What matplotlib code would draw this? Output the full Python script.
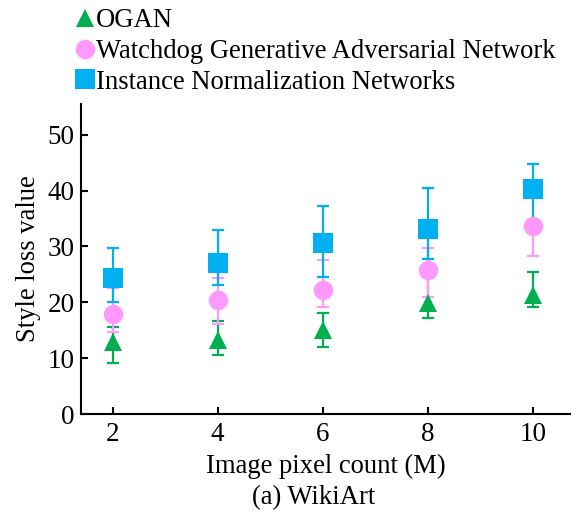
import numpy as np
import matplotlib
matplotlib.use("Agg")
import matplotlib.pyplot as plt

plt.rcParams['font.family'] = ['Liberation Serif', 'DejaVu Serif']

pixels = [2, 4, 6, 8, 10]

ogan = [12.9, 13.3, 15.0, 19.9, 21.3]
ogan_lo = [9.1, 10.6, 12.0, 17.2, 19.2]
ogan_hi = [15.6, 16.7, 18.1, 25.1, 25.4]

watchdog = [17.9, 20.4, 22.2, 25.8, 33.7]
watchdog_lo = [14.7, 16.1, 19.2, 21.0, 28.3]
watchdog_hi = [22.6, 24.3, 27.6, 29.8, 38.9]

instnorm = [24.4, 27.0, 30.6, 33.2, 40.3]
instnorm_lo = [20.0, 23.1, 24.6, 27.8, 34.8]
instnorm_hi = [29.7, 32.9, 37.3, 40.5, 44.7]

names = ['OGAN', 'Watchdog Generative Adversarial Network',
         'Instance Normalization Networks']
colors = ['#00B050', '#FF99FF', '#00B0F0']
markers = ['^', 'o', 's']
sizes = [13.5, 14, 14]

fig = plt.figure(figsize=(5.76, 5.17), dpi=100)
ax = fig.add_axes([0.1406, 0.1992, 0.849, 0.5996])

series = [(ogan, ogan_lo, ogan_hi), (watchdog, watchdog_lo, watchdog_hi),
          (instnorm, instnorm_lo, instnorm_hi)]
handles = []
for (mid, lo, hi), name, c, m, s in zip(series, names, colors, markers, sizes):
    mid = np.array(mid)
    yerr = [mid - np.array(lo), np.array(hi) - mid]
    ax.errorbar(pixels, mid, yerr=yerr, fmt='none', ecolor=c,
                elinewidth=1.6, capsize=4.5, capthick=1.6, zorder=2)
    h, = ax.plot(pixels, mid, linestyle='none', marker=m, markersize=s,
                 color=c, markeredgewidth=0, zorder=3, label=name)
    handles.append(h)

ax.set_xlim(1.4, 10.7)
ax.set_ylim(0, 55.5)
ax.set_xticks(pixels)
ax.set_yticks(range(0, 51, 10))
ax.spines['top'].set_visible(False)
ax.spines['right'].set_visible(False)
for sp in ('left', 'bottom'):
    ax.spines[sp].set_linewidth(1.5)
ax.tick_params(direction='in', length=5, width=1.5, labelsize=19.5)
ax.tick_params(axis='y', pad=4.5)
ax.tick_params(axis='x', pad=6)
ax.set_ylabel('Style loss value', fontsize=19.2, labelpad=4.5)
ax.set_xlabel('Image pixel count (M)', fontsize=19.2, labelpad=4.5)

fig.text(0.545, 0.014, '(a) WikiArt', fontsize=19.2, ha='center', va='bottom')

fig.legend(handles=handles, loc='upper left', bbox_to_anchor=(0.11, 1.005),
           frameon=False, fontsize=19.2, handlelength=0.8, handletextpad=0.02,
           labelspacing=0.22, borderaxespad=0, markerscale=1.0)

fig.savefig('out.png', dpi=100)
